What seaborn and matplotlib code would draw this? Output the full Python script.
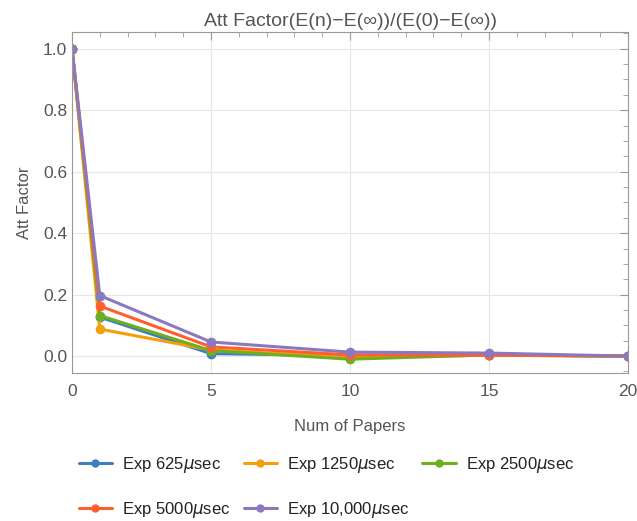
import matplotlib
matplotlib.use("Agg")
import matplotlib.pyplot as plt
import seaborn as sns
import pandas as pd
from matplotlib.ticker import MultipleLocator

papers = [0, 1, 5, 10, 15, 20]
series_names = ["Exp 625$\\mu$sec", "Exp 1250$\\mu$sec", "Exp 2500$\\mu$sec",
                "Exp 5000$\\mu$sec", "Exp 10,000$\\mu$sec"]
exp_625 = [1.0, 0.127, 0.008, 0.002, 0.004, 0.0]
exp_1250 = [1.0, 0.088, 0.020, -0.004, 0.003, 0.0]
exp_2500 = [1.0, 0.132, 0.018, -0.010, 0.004, 0.0]
exp_5000 = [1.0, 0.163, 0.030, 0.004, 0.003, 0.0]
exp_10000 = [1.0, 0.197, 0.046, 0.013, 0.010, 0.0]
colors = ["#3F7FBF", "#F5A00A", "#6DAF1C", "#FF5F2E", "#8C78C0"]

rows = []
for name, vals in zip(series_names, [exp_625, exp_1250, exp_2500, exp_5000, exp_10000]):
    for x, y in zip(papers, vals):
        rows.append({"Num of Papers": x, "Att Factor": y, "series": name})
df = pd.DataFrame(rows)

sns.set_theme(style="white")
plt.rcParams["font.family"] = ["Liberation Sans", "DejaVu Sans"]
gray = "#555555"

fig = plt.figure(figsize=(6.37, 5.21), dpi=100)
ax = fig.add_axes([0.113, 0.284, 0.873, 0.655])

sns.lineplot(data=df, x="Num of Papers", y="Att Factor", hue="series",
             hue_order=series_names, palette=colors, marker="o",
             markersize=7, markeredgewidth=0, linewidth=2.2, ax=ax, legend=False)

ax.set_xlim(0, 20)
ax.set_ylim(-0.055, 1.055)
ax.xaxis.set_major_locator(MultipleLocator(5))
ax.xaxis.set_minor_locator(MultipleLocator(1))
ax.yaxis.set_major_locator(MultipleLocator(0.2))
ax.yaxis.set_minor_locator(MultipleLocator(0.05))
ax.yaxis.set_major_formatter(matplotlib.ticker.FormatStrFormatter("%.1f"))
ax.grid(True, which="major", color="#e6e6e6", linewidth=0.8)
ax.set_axisbelow(True)
for s in ax.spines.values():
    s.set_color("#999999")
    s.set_linewidth(0.8)
ax.tick_params(which="both", direction="in", top=True, right=True,
               colors="#999999", labelcolor=gray, labelsize=12.5)
ax.tick_params(which="major", length=6, width=0.8)
ax.tick_params(which="minor", length=3.5, width=0.6)
ax.tick_params(axis="x", pad=8)

ax.set_xlabel("Num of Papers", color=gray, fontsize=12, labelpad=14)
ax.set_ylabel("Att Factor", color=gray, fontsize=12, labelpad=8)
ax.set_title("Att Factor(E(n)\u2212E(\u221e))/(E(0)\u2212E(\u221e))", color=gray,
             fontsize=14, pad=4)

handles = [plt.Line2D([], [], color=c, marker="o", markersize=6, markeredgewidth=0,
                      linewidth=2.2) for c in colors]
order = [0, 3, 1, 4, 2]
leg = fig.legend([handles[i] for i in order], [series_names[i] for i in order],
                 loc="upper left", bbox_to_anchor=(0.105, 0.149),
                 ncol=3, frameon=False, fontsize=12, labelspacing=1.5,
                 handlelength=2.0, columnspacing=0.8, handletextpad=0.6,
                 borderpad=0.2)
for t in leg.get_texts():
    t.set_color("#222222")

fig.savefig("out.png", dpi=100)
